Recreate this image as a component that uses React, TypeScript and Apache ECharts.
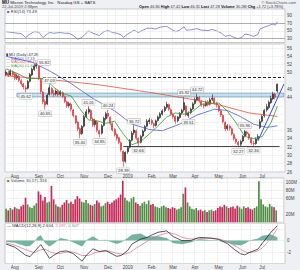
import React, { useEffect, useRef } from "react";
import * as echarts from "echarts";

const SLOTS = 129;
const FONT = "Liberation Sans, Arial, sans-serif";

const monthTicks: [number, string][] = [
  [4, "Aug"], [15, "Sep"], [25, "Oct"], [36, "Nov"], [47, "Dec"], [56, "2019"],
  [67, "Feb"], [77, "Mar"], [87, "Apr"], [98, "May"], [109, "Jun"], [118, "Jul"],
];
const gridLineIdx = [4, 10, 15, 20, 25, 30, 36, 41, 47, 51, 56, 61, 67, 72, 77, 82, 87, 92, 98, 103, 109, 113, 118, 123];

// [open, close, low, high], one candle per two sessions
const candles: number[][] = [
  [49.6, 50.2, 49.2, 50.8], [50.0, 49.4, 49.0, 50.6], [49.5, 50.4, 49.2, 50.9], [50.2, 49.6, 49.1, 50.6],
  [49.8, 48.7, 48.2, 50.2], [48.8, 49.3, 48.3, 49.8], [49.2, 48.2, 47.8, 49.6], [48.1, 47.4, 46.9, 48.5],
  [47.3, 46.6, 46.0, 47.6], [46.4, 46.1, 45.3, 47.0], [46.3, 47.9, 46.0, 48.3], [48.0, 49.6, 47.7, 50.0],
  [49.5, 50.9, 49.2, 51.3], [50.8, 51.6, 50.5, 52.1], [51.6, 52.0, 51.0, 52.5], [51.8, 48.6, 48.2, 52.1],
  [48.4, 45.5, 44.9, 48.7], [45.3, 43.0, 42.4, 45.6], [43.1, 42.2, 41.1, 43.6], [42.5, 44.6, 42.2, 45.0],
  [44.8, 46.4, 44.5, 47.2], [46.2, 45.1, 44.7, 46.6], [45.0, 44.8, 44.2, 45.9], [44.9, 45.6, 44.5, 46.0],
  [45.5, 44.7, 44.3, 45.9], [44.8, 45.3, 44.4, 45.8], [45.2, 44.3, 43.9, 45.5], [44.2, 43.1, 42.7, 44.5],
  [43.0, 42.0, 41.5, 43.3], [42.1, 42.6, 41.6, 43.0], [42.4, 41.2, 40.7, 42.8], [41.0, 39.7, 39.2, 41.3],
  [39.6, 38.0, 37.5, 39.8], [38.1, 36.4, 35.9, 38.4], [36.5, 35.2, 34.2, 36.8], [35.3, 37.0, 35.0, 37.4],
  [37.1, 39.4, 36.8, 39.8], [39.3, 40.6, 39.0, 41.2], [40.5, 41.2, 40.0, 41.9], [40.9, 38.9, 38.5, 41.2],
  [38.8, 37.4, 36.9, 39.2], [37.5, 38.4, 37.0, 38.9], [38.2, 36.1, 35.6, 38.4], [36.0, 35.2, 34.4, 36.3],
  [35.4, 37.2, 35.1, 37.6], [37.3, 39.0, 37.0, 39.4], [38.9, 40.1, 38.5, 40.6], [40.2, 39.5, 39.0, 41.0],
  [39.2, 37.8, 37.3, 39.5], [37.7, 36.2, 35.8, 38.0], [36.3, 35.0, 34.6, 36.6], [35.1, 34.2, 33.6, 35.4],
  [34.3, 33.2, 32.7, 34.5], [33.1, 31.4, 30.9, 33.4], [31.0, 28.6, 27.3, 31.2], [28.6, 30.8, 28.2, 31.0],
  [30.9, 31.9, 30.4, 32.3], [32.0, 33.6, 31.7, 34.0], [33.7, 35.4, 33.4, 35.9], [35.5, 36.2, 35.0, 37.3],
  [36.0, 34.2, 33.8, 36.3], [34.1, 33.0, 32.3, 34.4], [33.2, 34.6, 32.9, 35.0], [34.7, 35.9, 34.4, 36.3],
  [36.0, 37.0, 35.7, 37.4], [37.1, 38.3, 36.8, 38.8], [38.2, 38.6, 37.6, 39.1], [38.5, 37.8, 37.3, 38.9],
  [37.7, 37.2, 36.6, 38.0], [37.3, 38.4, 37.0, 38.7], [38.5, 39.3, 38.2, 39.7], [39.2, 40.1, 38.9, 40.5],
  [40.0, 40.8, 39.7, 41.2], [40.9, 41.6, 40.5, 42.0], [41.7, 42.4, 41.3, 43.0], [42.3, 41.2, 40.8, 42.6],
  [41.1, 40.1, 39.7, 41.4], [40.0, 39.4, 38.9, 40.4], [39.5, 38.3, 37.6, 39.7], [38.4, 39.3, 38.0, 39.6],
  [39.2, 40.2, 38.9, 40.5], [40.3, 40.9, 39.9, 41.3], [41.0, 42.8, 40.6, 44.2], [42.0, 39.8, 39.4, 42.2],
  [39.7, 40.3, 39.1, 40.7], [40.4, 41.2, 40.0, 41.6], [41.3, 42.5, 41.0, 42.9], [42.6, 43.6, 42.3, 44.0],
  [43.5, 44.1, 43.1, 44.9], [44.0, 43.2, 42.8, 44.4], [43.1, 42.2, 41.8, 43.4], [42.3, 42.0, 41.4, 42.6],
  [42.1, 42.9, 41.8, 43.3], [43.0, 42.3, 41.9, 43.4], [42.4, 43.5, 42.1, 44.0], [43.6, 43.9, 43.2, 44.8],
  [43.8, 42.7, 42.3, 44.1], [42.6, 42.2, 41.6, 43.0], [42.0, 40.9, 40.5, 42.3], [40.8, 39.8, 39.3, 41.1],
  [39.7, 38.2, 37.8, 40.0], [38.0, 36.4, 35.9, 38.3], [36.5, 37.2, 36.0, 37.6], [37.1, 36.6, 36.1, 37.5],
  [36.5, 35.2, 34.8, 36.8], [35.1, 34.1, 33.6, 35.4], [34.0, 33.3, 32.8, 34.3], [33.2, 32.6, 32.0, 33.5],
  [32.7, 33.4, 32.2, 33.8], [33.5, 34.6, 33.2, 35.0], [34.7, 35.8, 34.4, 36.2], [35.7, 35.3, 34.8, 36.0],
  [35.2, 34.2, 33.8, 35.5], [34.1, 33.1, 32.6, 34.4], [33.0, 32.8, 32.3, 33.6], [32.9, 34.0, 32.6, 34.4],
  [34.1, 34.6, 33.8, 35.2], [36.8, 38.2, 36.4, 38.8], [38.3, 39.5, 38.0, 40.0], [39.6, 40.9, 39.2, 41.3],
  [41.0, 41.8, 40.6, 42.5], [41.6, 42.9, 41.2, 43.3], [42.8, 43.8, 42.5, 44.5], [43.7, 44.9, 43.4, 45.4],
  [44.8, 44.1, 43.6, 45.2], [45.6, 47.28, 45.2, 47.42],
];

// millions of shares
const volume: number[] = [
  34, 30, 36, 32, 38, 35, 33, 40, 44, 62, 45, 38, 36, 42, 48,
  78, 70, 55, 64, 50, 52, 92, 58, 45, 40,
  38, 44, 50, 56, 48, 52, 46, 58, 66, 60, 52, 50,
  56, 48, 44, 42, 46, 55, 50, 40, 42, 48,
  52, 46, 50, 55, 58, 62, 70, 105, 62,
  55, 52, 60, 64, 50, 46, 42, 48, 52, 46, 55,
  44, 46, 40, 38, 36, 40, 42, 38, 36, 34, 38,
  36, 32, 34, 38, 72, 88, 50, 40, 34, 32, 36,
  30, 32, 28, 30, 26, 30, 32, 28, 30, 36,
  40, 38, 44, 40, 36, 38, 40, 35, 42, 38, 34,
  40, 36, 38, 34, 32, 36, 40,
  104, 58, 45, 40, 38, 46, 40, 38, 30,
];

const rsiPts: [number, number][] = [
  [0, 48], [2, 46.5], [4, 45], [7, 43], [9, 33], [11, 42], [13, 48], [15, 47], [17, 33], [19, 42], [20, 46],
  [22, 44], [25, 46], [27, 44], [29, 44], [31, 38], [33, 28.5], [35, 33], [37, 45], [38, 50], [40, 44],
  [43, 38], [45, 48], [47, 51], [49, 46], [51, 44], [53, 40], [54, 33], [56, 42], [59, 52], [61, 46],
  [63, 52], [65, 57], [67, 57], [69, 55], [71, 60], [74, 62], [76, 55], [78, 48], [80, 52], [82, 61],
  [83, 52], [85, 53], [88, 56], [90, 52], [93, 51], [95, 54], [97, 50], [99, 45], [101, 36], [103, 39],
  [105, 33], [107, 30], [109, 35], [110, 42], [112, 40], [114, 36], [116, 41], [117, 55], [119, 60],
  [121, 64], [123, 68], [124, 65], [125, 73.49],
];

const ma20Pts: [number, number][] = [
  [0, 51.0], [5, 49.9], [10, 48.6], [14, 48.7], [18, 48.6], [22, 46.5], [26, 45.0], [30, 44.4], [34, 41.3],
  [38, 38.6], [42, 38.4], [46, 37.8], [50, 38.3], [54, 35.2], [58, 32.6], [62, 33.4], [66, 35.2], [70, 37.2],
  [74, 39.3], [78, 40.3], [82, 40.0], [86, 40.7], [90, 42.4], [94, 42.6], [98, 42.7], [102, 40.7], [106, 37.9],
  [110, 34.6], [114, 34.1], [118, 34.6], [122, 37.9], [125, 41.94],
];
const ma50Pts: [number, number][] = [
  [0, 54.0], [12, 52.6], [20, 50.5], [30, 47.4], [40, 43.8], [50, 40.8], [58, 37.6], [66, 36.3], [72, 36.0],
  [80, 37.6], [88, 39.8], [96, 41.2], [102, 40.9], [108, 39.4], [114, 37.6], [120, 36.8], [125, 37.18],
];
const ma200Pts: [number, number][] = [
  [0, 49.3], [20, 48.4], [43, 47.1], [66, 45.3], [89, 43.3], [100, 42.0], [112, 40.3], [125, 39.47],
];

const macdPts: [number, number][] = [
  [0, -0.6], [4, -1.15], [9, -2.55], [11, -2.8], [15, -1.1], [16, -0.7], [18, -1.9], [20, -3.1], [22, -2.55],
  [25, -1.9], [28, -1.8], [31, -2.3], [35, -3.6], [37, -2.55], [40, -1.45], [43, -1.9], [46, -1.75], [51, -2.75],
  [53, -2.6], [56, -1.75], [58, -0.6], [62, 0.25], [65, 0.55], [67, 0.95], [70, 1.45], [74, 1.7], [77, 0.7],
  [81, 0.0], [85, 0.0], [89, 0.55], [94, 0.45], [98, 0.2], [102, -0.55], [105, -1.5], [108, -2.3], [110, -2.5],
  [112, -2.1], [116, -1.5], [118, -0.5], [120, 0.45], [122, 1.45], [124, 2.2], [125, 2.604],
];
const signalPts: [number, number][] = [
  [0, -0.4], [4, -0.8], [9, -1.6], [13, -2.1], [16, -1.6], [18, -1.5], [21, -2.1], [24, -2.3], [28, -2.0],
  [31, -2.0], [35, -2.6], [38, -2.6], [41, -2.1], [44, -1.9], [47, -1.8], [51, -2.2], [54, -2.4], [57, -2.1],
  [60, -1.3], [63, -0.6], [66, 0.1], [69, 0.7], [72, 1.1], [75, 1.4], [78, 1.1], [81, 0.6], [84, 0.3], [88, 0.3],
  [92, 0.4], [96, 0.4], [99, 0.2], [102, -0.2], [105, -0.8], [108, -1.5], [111, -2.1], [114, -2.0], [116, -1.8],
  [118, -1.3], [120, -0.5], [122, 0.4], [124, 1.5], [125, 2.097],
];
const histPts: [number, number][] = [
  [0, -0.2], [4, -0.35], [9, -0.95], [11, -0.9], [13, -0.2], [15, 0.7], [16, 0.9], [18, -0.4], [20, -1.0],
  [22, -0.5], [25, 0.4], [28, 0.2], [31, -0.3], [35, -1.0], [37, 0.05], [40, 0.7], [43, 0.0], [46, 0.1],
  [51, -0.55], [53, -0.3], [56, 0.4], [58, 1.0], [62, 1.2], [65, 0.6], [67, 0.7], [70, 0.7], [74, 0.4],
  [77, -0.4], [81, -0.6], [85, -0.3], [89, 0.25], [94, 0.05], [98, 0.0], [102, -0.35], [105, -0.7], [108, -0.8],
  [110, -0.5], [112, -0.05], [116, 0.3], [118, 0.8], [120, 0.95], [122, 1.05], [124, 0.7], [125, 0.507],
];

// [index, price, text, side]
const annotations: [number, number, string, string][] = [
  [14, 52.5, "55.82", "right"], [9, 45.3, "45.62", "bottom"], [18, 41.1, "40.65", "bottom"],
  [20, 47.2, "47.03", "top"], [34, 34.2, "35.40", "bottom"], [38, 41.9, "41.01", "top"],
  [43, 34.4, "34.85", "bottom"], [47, 41.0, "40.24", "top"], [54, 27.3, "28.39", "bottom"],
  [59, 37.3, "36.72", "top"], [61, 32.3, "32.66", "bottom"], [82, 44.2, "45.92", "top"],
  [84, 39.1, "39.51", "bottom"], [88, 44.9, "44.72", "top"], [107, 32.0, "32.27", "bottom"],
  [110, 36.2, "35.96", "top"], [114, 32.3, "32.36", "bottom"],
];

const bandLow = 44.2;
const bandHigh = 45.1;
const resistance = 49.0;
const support = 32.3;
const trend: [number, number][] = [[116, 33.5], [128, 47.3]];

// axis labels hidden because a value tag sits on top of them
const hiddenPrice = [48, 42, 40, 38];
const hiddenVolume = [40];

function sparse(pts: [number, number][]) {
  const a: (number | null)[] = new Array(SLOTS).fill(null);
  pts.forEach(([i, v]) => { a[i] = v; });
  return a;
}

function tag(at: number, text: string, bg: string, fg: string, border: string) {
  return {
    yAxis: at,
    lineStyle: { opacity: 0, width: 0 },
    label: {
      show: true, position: "end", formatter: text, fontSize: 4.2, fontFamily: FONT,
      color: fg, backgroundColor: bg, borderColor: border, borderWidth: 0.5,
      padding: [0.4, 1], distance: 1, lineHeight: 4.4,
    },
  };
}

export default function App() {
  const ref = useRef<HTMLDivElement>(null);
  useEffect(() => {
    const chart = echarts.init(ref.current!, null, { renderer: "svg" });
    const cats = Array.from({ length: SLOTS }, (_, i) => String(i));
    const labelMap = new Map<number, string>(monthTicks);
    const gridSet = new Set(gridLineIdx);
    const xAxis = (gridIndex: number, labels: boolean) => ({
      type: "category", gridIndex, data: cats, boundaryGap: true,
      axisLine: { show: false }, axisTick: { show: false },
      axisLabel: labels
        ? {
            show: true, interval: (i: number) => labelMap.has(i),
            formatter: (v: string) => labelMap.get(Number(v)) ?? "",
            fontSize: 4.5, color: "#444", margin: 1.5, fontFamily: FONT,
          }
        : { show: false },
      splitLine: { show: true, interval: (i: number) => gridSet.has(i), lineStyle: { color: "#e2e2e2", width: 0.5 } },
    });
    const yLabel = { fontSize: 4.5, color: "#444", margin: 2, fontFamily: FONT };
    const gridBase = { left: 5, width: 280, show: true, backgroundColor: "#fff", borderColor: "#9a9a9a", borderWidth: 0.5 };
    const closes = candles.map((c) => c[1]);
    const volData = volume.map((v, i) => ({
      value: v,
      itemStyle: { color: i > 0 && closes[i] < closes[i - 1] ? "#c8285a" : "#4e8f43" },
    }));
    const lineS = (name: string, pts: [number, number][], color: string, xi: number, yi: number, w = 0.8) => ({
      name, type: "line", xAxisIndex: xi, yAxisIndex: yi, data: sparse(pts), connectNulls: true,
      symbol: "none", lineStyle: { color, width: w }, itemStyle: { color }, silent: true,
    });
    const last = (p: [number, number][]) => p[p.length - 1][1];
    const LEG = 3.9;

    const option: any = {
      animation: false,
      backgroundColor: "#eef0f3",
      textStyle: { fontFamily: FONT },
      grid: [
        { ...gridBase, top: 9, height: 33.5 },
        { ...gridBase, top: 44, height: 128 },
        { ...gridBase, top: 178, height: 44.2 },
        { ...gridBase, top: 223.4, height: 42 },
      ],
      xAxis: [xAxis(0, false), xAxis(1, true), xAxis(2, false), xAxis(3, true)],
      yAxis: [
        {
          type: "value", gridIndex: 0, position: "right", min: 20, max: 107, interval: 10,
          axisLine: { show: false }, axisTick: { show: false }, splitLine: { show: false },
          axisLabel: { ...yLabel, showMaxLabel: false, formatter: (v: number) => ([30, 50, 70, 90].includes(v) ? String(v) : "") },
        },
        {
          type: "value", gridIndex: 1, position: "right", min: 26, max: 57, interval: 2,
          axisLine: { show: false }, axisTick: { show: false },
          splitLine: { lineStyle: { color: "#e6e6e6", width: 0.5 } },
          axisLabel: { ...yLabel, showMaxLabel: false, formatter: (v: number) => (hiddenPrice.includes(v) ? "" : String(v)) },
        },
        {
          type: "value", gridIndex: 2, position: "right", min: 0, max: 112, interval: 20,
          axisLine: { show: false }, axisTick: { show: false },
          splitLine: { lineStyle: { color: "#e6e6e6", width: 0.5 } },
          axisLabel: {
            ...yLabel, showMaxLabel: false,
            formatter: (v: number) => (v > 0 && v <= 100 && !hiddenVolume.includes(v) ? v + "M" : ""),
          },
        },
        {
          type: "value", gridIndex: 3, position: "right", min: -4, max: 3, interval: 2,
          axisLine: { show: false }, axisTick: { show: false },
          splitLine: { lineStyle: { color: "#e6e6e6", width: 0.5 } },
          axisLabel: { ...yLabel, showMaxLabel: false, showMinLabel: false, formatter: (v: number) => ([-2, 0].includes(v) ? String(v) : "") },
        },
      ],
      series: [
        {
          ...lineS("RSI", rsiPts, "#5a62c6", 0, 0, 0.7),
          markLine: {
            symbol: ["none", "none"], silent: true, label: { show: false },
            data: [
              { yAxis: 90, lineStyle: { color: "#e2e2e2", width: 0.5, type: "solid" } },
              { yAxis: 50, lineStyle: { color: "#e2e2e2", width: 0.5, type: "solid" } },
              { yAxis: 70, lineStyle: { color: "#777", width: 0.6, type: "solid" } },
              { yAxis: 30, lineStyle: { color: "#777", width: 0.6, type: "solid" } },
              tag(80.5, "73.49", "#fff", "#333", "#5a62c6"),
            ],
          },
        },
        {
          name: "MU", type: "candlestick", xAxisIndex: 1, yAxisIndex: 1, data: candles, barWidth: 1.5, silent: true,
          itemStyle: { color: "#222", color0: "#e3262b", borderColor: "#222", borderColor0: "#e3262b", borderWidth: 0.6 },
          markArea: {
            silent: true,
            itemStyle: { color: "rgba(150,200,225,0.55)", borderColor: "#4f86aa", borderWidth: 0.6 },
            data: [[{ coord: [5, bandLow] }, { coord: [128, bandHigh] }]],
          },
          markLine: {
            symbol: ["none", "none"], silent: true, label: { show: false },
            data: [
              [{ coord: [17, resistance], lineStyle: { color: "#222", width: 1, type: [3, 2] } }, { coord: [128, resistance] }],
              [{ coord: [54, support], lineStyle: { color: "#333", width: 0.9, type: "solid" } }, { coord: [126, support] }],
              [{ coord: trend[0], lineStyle: { color: "#2f52e6", width: 1, type: "solid" } }, { coord: trend[1] }],
              tag(47.28, "47.28", "#fff", "#111", "#111"),
            ],
          },
          markPoint: {
            symbol: "rect", symbolSize: 0.1, silent: true, itemStyle: { color: "rgba(0,0,0,0)" },
            label: {
              show: true, formatter: "{c}", fontSize: 4.2, fontFamily: FONT, color: "#333",
              backgroundColor: "#f6f6f6", borderColor: "#a5a5a5", borderWidth: 0.4, padding: [0.6, 1], distance: 1.5,
            },
            data: annotations.map(([i, v, t, side]) => ({ coord: [i, v], value: t, label: { position: side } })),
          },
        },
        {
          ...lineS("MA200", ma200Pts, "#e2533a", 1, 1, 0.8),
          markLine: { symbol: ["none", "none"], silent: true, data: [tag(last(ma200Pts), "39.47", "#fff", "#c0392b", "#e2533a")] },
        },
        {
          ...lineS("MA50", ma50Pts, "#4b5bd6", 1, 1, 0.8),
          markLine: { symbol: ["none", "none"], silent: true, data: [tag(last(ma50Pts), "37.18", "#fff", "#3545b8", "#4b5bd6")] },
        },
        {
          ...lineS("MA20", ma20Pts, "#2e9b2e", 1, 1, 0.8),
          markLine: { symbol: ["none", "none"], silent: true, data: [tag(last(ma20Pts), "41.94", "#e3f3e0", "#1f7a1f", "#2e9b2e")] },
        },
        {
          name: "Volume", type: "bar", xAxisIndex: 2, yAxisIndex: 2, data: volData, barWidth: 1.7, silent: true,
          markLine: { symbol: ["none", "none"], silent: true, data: [tag(30.17, "30.17M", "#fff", "#333", "#666")] },
        },
        {
          name: "Hist", type: "line", xAxisIndex: 3, yAxisIndex: 3, data: sparse(histPts), connectNulls: true,
          symbol: "none", silent: true, lineStyle: { color: "#4f9c86", width: 0.3 },
          areaStyle: { color: "#5aa891", opacity: 0.85 },
          markLine: { symbol: ["none", "none"], silent: true, data: [tag(0.8, "0.507", "#e1f1ec", "#2e7a66", "#5aa891")] },
        },
        {
          ...lineS("Signal", signalPts, "#e0679a", 3, 3, 0.7),
          markLine: { symbol: ["none", "none"], silent: true, data: [tag(1.95, "2.097", "#fff", "#c2457a", "#e0679a")] },
        },
        {
          ...lineS("MACD", macdPts, "#111", 3, 3, 0.7),
          markLine: { symbol: ["none", "none"], silent: true, data: [tag(2.8, "2.604", "#fff", "#111", "#111")] },
        },
      ],
      graphic: [
        {
          type: "text", x: 2, y: 0.3, silent: true,
          style: {
            text: "{b|MU} Micron Technology, Inc.  Nasdaq GS + BATS", fontSize: 4.3, fontFamily: FONT, fill: "#222",
            rich: { b: { fontWeight: "bold", fontSize: 4.5, fontFamily: FONT, fill: "#111" } },
          },
        },
        { type: "text", x: 2, y: 4.4, silent: true, style: { text: "22-Jul-2019 2:38pm", fontSize: 4, fontFamily: FONT, fill: "#444" } },
        { type: "text", x: 296, y: 0.3, silent: true, style: { text: "© StockCharts.com", fontSize: 4, fontFamily: FONT, fill: "#555", align: "right" } },
        {
          type: "text", x: 139, y: 4.2, silent: true,
          style: {
            text: "{b|Open} 46.80 {b|High} 47.42 {b|Low} 46.31 {b|Last} 47.28 {b|Volume} 30.2M {b|Chg} +1.72 (+3.78%)",
            fontSize: 3.9, fontFamily: FONT, fill: "#333",
            rich: { b: { fontWeight: "bold", fontSize: 3.9, fontFamily: FONT, fill: "#111" } },
          },
        },
        {
          type: "text", x: 7, y: 9.6, silent: true,
          style: {
            text: "{s|■} RSI(14) 73.49", fontSize: 4.2, fontFamily: FONT, fill: "#333",
            rich: { s: { fill: "#5a62c6", fontSize: 4.2 } },
          },
        },
        {
          type: "text", x: 6, y: 52.6, silent: true,
          style: { text: "▮ MU (Daily) 47.28", fontSize: LEG, fontFamily: FONT, fill: "#222" },
        },
        { type: "text", x: 6, y: 56.2, silent: true, style: { text: "— MA(50) 37.18", fontSize: LEG, fontFamily: FONT, fill: "#4b5bd6" } },
        { type: "text", x: 6, y: 59.8, silent: true, style: { text: "— MA(200) 39.47", fontSize: LEG, fontFamily: FONT, fill: "#e2533a" } },
        { type: "text", x: 6, y: 63.4, silent: true, style: { text: "— MA(20) 41.94", fontSize: LEG, fontFamily: FONT, fill: "#2e9b2e" } },
        {
          type: "text", x: 7, y: 178.8, silent: true,
          style: {
            text: "{s|■} Volume 30,171,316", fontSize: 4.2, fontFamily: FONT, fill: "#333",
            rich: { s: { fill: "#4e8f43", fontSize: 4.2 } },
          },
        },
        {
          type: "text", x: 7, y: 223.8, silent: true,
          style: {
            text: "— MACD(12,26,9) 2.604, {p|2.097}, {g|0.507}", fontSize: 4.2, fontFamily: FONT, fill: "#222",
            rich: { p: { fill: "#e0679a", fontSize: 4.2 }, g: { fill: "#4f9c86", fontSize: 4.2 } },
          },
        },
      ],
    };
    chart.setOption(option);
    return () => chart.dispose();
  }, []);
  return <div ref={ref} style={{ position: "fixed", left: 0, top: 0, width: 300, height: 270 }} />;
}
